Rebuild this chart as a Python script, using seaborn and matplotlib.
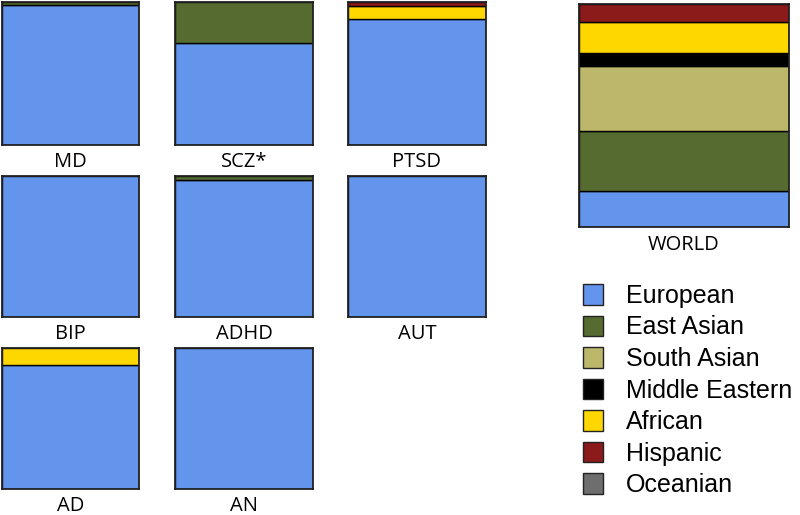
import matplotlib
matplotlib.use("Agg")
import matplotlib.pyplot as plt
import seaborn as sns
import pandas as pd
from matplotlib.patches import Patch

sns.set_style("white")

ancestries = ["European", "East Asian", "South Asian", "Middle Eastern",
              "African", "Hispanic", "Oceanian"]
colors = ["#6495ED", "#556B2F", "#BDB76B", "#000000", "#FFD700", "#8B1A1A", "#6E6E6E"]

panels = ["MD", "SCZ*", "PTSD", "BIP", "ADHD", "AUT", "AD", "AN", "WORLD"]
european       = [98, 71, 88, 100, 97, 100, 88, 100, 16]
east_asian     = [2, 29, 0, 0, 3, 0, 0, 0, 27]
south_asian    = [0, 0, 0, 0, 0, 0, 0, 0, 29]
middle_eastern = [0, 0, 0, 0, 0, 0, 0, 0, 6]
african        = [0, 0, 9, 0, 0, 0, 12, 0, 14]
hispanic       = [0, 0, 3, 0, 0, 0, 0, 0, 8]
oceanian       = [0, 0, 0, 0, 0, 0, 0, 0, 0]

series = [european, east_asian, south_asian, middle_eastern, african, hispanic, oceanian]
rows = []
for p_i, p in enumerate(panels):
    for a, vals in zip(ancestries, series):
        if vals[p_i] > 0:
            rows.append({"panel": p, "ancestry": a, "pct": vals[p_i], "pos": 0})
df = pd.DataFrame(rows)

W, H = 800, 515
fig = plt.figure(figsize=(W / 100, H / 100), dpi=100)

# pixel boxes: (x0, y0, x1, y1) top-origin
col_x = [(2, 139), (175, 313), (348, 486)]
row_y = [(2, 145), (176, 317), (348, 489)]
boxes = {}
k = 0
for r in range(3):
    for c in range(3):
        if k < 8:
            boxes[panels[k]] = (col_x[c][0], row_y[r][0], col_x[c][1], row_y[r][1])
        k += 1
boxes["WORLD"] = (579, 4, 789, 227)

palette = dict(zip(ancestries, colors))
label_font = ["Open Sans", "DejaVu Sans"]

for p in panels:
    x0, y0, x1, y1 = boxes[p]
    ax = fig.add_axes([x0 / W, 1 - y1 / H, (x1 - x0) / W, (y1 - y0) / H])
    sub = df[df["panel"] == p]
    present = [a for a in ancestries if a in set(sub["ancestry"])]
    sns.histplot(data=sub, x="pos", weights="pct", hue="ancestry",
                 hue_order=present[::-1], multiple="stack", discrete=True,
                 shrink=1, palette=palette, edgecolor="black", linewidth=1,
                 alpha=1, legend=False, ax=ax)
    ax.set_xlim(-0.5, 0.5)
    ax.set_ylim(0, 100)
    ax.set_xticks([])
    ax.set_yticks([])
    ax.set_ylabel("")
    ax.set_xlabel("")
    for s in ax.spines.values():
        s.set_visible(True)
        s.set_color("#222222")
        s.set_linewidth(1.3)
    ly = min(y1 + 22, 512) if p != "WORLD" else 250
    fig.text(((x0 + x1) / 2) / W, 1 - ly / H, p, ha="center", va="baseline",
             fontsize=14.5, family=label_font, color="black")

handles = [Patch(facecolor=c, edgecolor="#222222", linewidth=1, label=a)
           for a, c in zip(ancestries, colors)]
leg = fig.legend(handles=handles, loc="upper left", bbox_to_anchor=(583 / W, 1 - 284 / H),
                 frameon=False, prop={"family": "Liberation Sans", "size": 18},
                 handlelength=0.78, handleheight=0.9, handletextpad=0.95,
                 labelspacing=0.3, borderpad=0, borderaxespad=0)
for t in leg.get_texts():
    t.set_color("black")

fig.savefig("out.png", dpi=100)
